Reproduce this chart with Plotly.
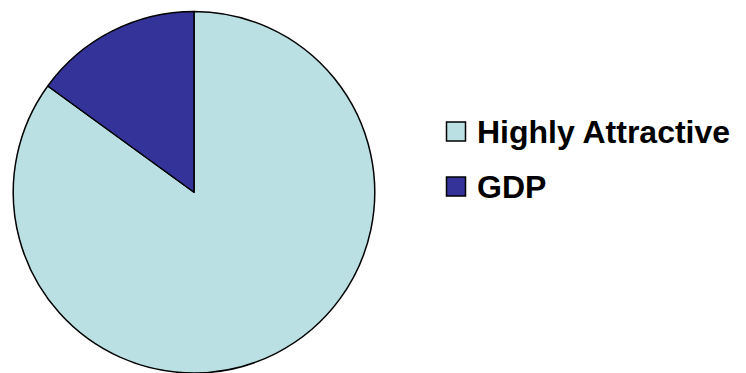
import plotly.graph_objects as go

labels = ["Highly Attractive", "GDP"]
values = [85, 15]
colors = ["#BBE0E3", "#333399"]

W, H = 746, 373

def px(x):
    return x / W

def py(y):
    return 1 - y / H

fig = go.Figure()
fig.add_trace(go.Pie(
    labels=labels,
    values=values,
    sort=False,
    direction="clockwise",
    rotation=0,
    marker=dict(colors=colors, line=dict(color="black", width=1.5)),
    textinfo="none",
    hoverinfo="label+percent",
    showlegend=False,
    domain=dict(x=[px(13), px(375)], y=[0, py(11.5)]),
))

shapes = []
annotations = []
row_centers = [131.5, 186.5]
for lab, col, cy in zip(labels, colors, row_centers):
    shapes.append(dict(
        type="rect", xref="paper", yref="paper",
        x0=px(446.5), x1=px(465.5), y0=py(cy + 9.5), y1=py(cy - 9.5),
        fillcolor=col, line=dict(color="black", width=1.5),
    ))
    annotations.append(dict(
        text="<b>%s</b>" % lab, xref="paper", yref="paper",
        x=px(475), y=py(cy + 0.5), xanchor="left", yanchor="middle",
        showarrow=False,
        font=dict(family="Arial, Liberation Sans, sans-serif", size=32, color="black"),
    ))

fig.update_layout(
    width=W, height=H,
    margin=dict(l=0, r=0, t=0, b=0),
    paper_bgcolor="white", plot_bgcolor="white",
    shapes=shapes, annotations=annotations,
)

fig.write_html("out.html")
